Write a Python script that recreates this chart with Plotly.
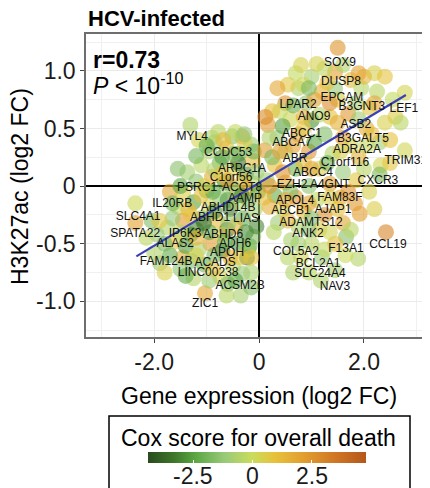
import plotly.graph_objects as go

# ---------------- data ----------------
# left cluster (genes with negative expression change)
left_expr = [-1.31, -0.78, -0.32, -0.51, -0.15, -0.62, -0.95, -0.38, -0.12, -0.75,
             -1.10, -0.50, -1.37, -0.25, -0.90, -1.20, -0.65, -0.10, -1.70, -1.45,
             -1.00, -0.42, -0.75, -1.25, -0.20, -1.55, -0.95, -0.55, -1.45, -1.10,
             -0.80, -0.30, -0.08, -1.75, -1.95, -0.61, -1.30, -0.11, -1.60, -0.93,
             -0.40, -1.15, -0.70, -0.23, -1.45, -1.89, -1.50, -1.05, -0.50, -0.32,
             -0.74, -1.25, -1.03, -2.36, -2.36, -2.00, -0.85, -0.30, -0.60, -1.30,
             -0.45, -0.95, -0.20, -1.70, -0.60, -1.20, -0.10, -1.55, -0.45, -2.05,
             -0.90, -0.70, -0.28, -1.20, -0.05, -0.40, -0.85, -1.50, -1.10, -0.50,
             -0.22, -0.85, -1.35, -0.40, -1.65, -0.70, -1.05, -0.25, -1.50, -0.85,
             -0.55, -1.30, -1.80, -0.15, -0.95, -1.40, -0.65, -0.35, -1.15, -0.60,
             -0.05, -1.90, -1.20, -0.48, -0.18,
             -1.00, -0.72, -0.33, -0.58, -0.88, -1.20, -0.45, -0.15, -1.65, -1.80,
             -0.02, -0.28, -0.68, -1.40, -0.88, -0.35, -2.15, -1.05, -0.15, -0.62]
left_h3k = [0.53, 0.47, 0.43, 0.43, 0.36, 0.33, 0.30, 0.28, 0.22, 0.20,
            0.18, 0.15, 0.12, 0.10, 0.08, 0.04, 0.03, 0.02, -0.05, -0.06,
            -0.04, -0.05, -0.10, -0.14, -0.12, -0.18, -0.18, -0.20, -0.30, -0.28,
            -0.30, -0.28, -0.20, -0.36, -0.42, -0.38, -0.42, -0.44, -0.48, -0.50,
            -0.50, -0.55, -0.56, -0.62, -0.62, -0.67, -0.72, -0.68, -0.70, -0.76,
            -0.79, -0.80, -0.93, -0.15, -0.32, -0.58, 0.38, 0.05, -0.12, -0.25,
            -0.35, -0.40, -0.55, -0.60, -0.85, -0.38, 0.30, 0.15, 0.47, -0.30,
            0.42, 0.25, 0.38, 0.26, 0.12, 0.20, 0.14, 0.00, -0.08, -0.02,
            -0.02, -0.22, -0.20, -0.15, -0.28, -0.42, -0.32, -0.40, -0.40, -0.60,
            -0.62, -0.65, -0.50, -0.75, -0.82, -0.52, -0.48, -0.62, 0.40, 0.05,
            -0.35, -0.30, -0.45, 0.28, -0.52,
            0.35, 0.10, -0.08, -0.32, -0.05, -0.60, -0.82, -0.62, -0.15, -0.75,
            -0.05, 0.45, 0.40, -0.78, -0.72, -0.95, -0.45, 0.00, -0.88, -0.95]
left_cox = [-0.6, -0.4, 2.2, -1.5, -1.0, 0.8, -0.8, -2.2, 1.2, -1.8,
            -0.3, 0.4, -0.9, -2.8, 1.6, -1.4, -3.0, -0.4, 1.8, 0.6,
            -2.0, 1.0, -1.2, -2.5, -1.8, -0.2, 0.3, -3.3, 2.4, -1.6,
            1.2, -2.2, -0.8, -0.5, -1.1, -3.8, -2.8, -1.5, 0.9, 2.2,
            -2.6, -0.7, -3.5, -3.2, 1.6, -1.0, -1.3, -2.0, -0.2, -1.2,
            0.3, -0.5, 1.9, 0.1, 2.0, -0.6, -1.1, 0.9, -2.6, 0.8,
            1.4, -2.4, -0.4, -2.2, -1.6, -3.0, -2.0, -1.5, -0.2, -1.6,
            -0.5, -2.6, 0.5, -1.9, -1.2, -3.4, -0.6, -2.4, 1.0, -1.4,
            1.6, -2.9, 1.2, -0.6, -1.2, 0.6, -3.6, -2.9, -0.4, -1.8,
            1.5, -1.6, -1.8, -0.8, -1.0, -2.6, -2.2, 0.8, 0.3, 2.0,
            -3.0, 0.8, 1.4, -1.6, -2.0,
            -2.2, 0.9, -3.1, -1.0, -2.3, 0.4, -2.4, 1.0, -2.0, 0.5,
            -2.4, -1.3, 1.2, -2.2, 0.9, -0.8, -0.3, 0.5, -1.6, -0.4]

# right cluster (genes with positive expression change)
right_expr = [1.50, 1.45, 2.20, 2.40, 1.00, 1.25, 1.75, 2.78, 0.75, 1.20,
              1.95, 2.55, 0.50, 0.90, 1.70, 2.10, 1.00, 0.17, 0.60, 1.35,
              2.40, 2.05, 0.35, 0.75, 1.25, 1.60, 2.30, 0.11, 0.50, 0.95,
              1.40, 1.90, 2.78, 0.30, 0.70, 1.15, 1.60, 2.32, 2.30, 0.15,
              0.50, 0.95, 1.35, 1.85, 0.30, 0.70, 1.10, 1.55, 1.83, 0.45,
              0.85, 1.25, 1.92, 0.36, 0.75, 1.15, 1.60, 2.42, 1.66, 0.61,
              1.00, 1.45, 1.89, 0.80, 1.20, 1.45, 1.18, 0.95, 1.65, 0.20,
              0.85, 1.50, 1.85, 0.40, 0.20, 2.10, 2.05, 0.55,
              0.35, 0.70, 1.10, 1.60, 2.00, 0.25, 0.65, 1.05, 1.45, 2.25,
              0.45, 0.85, 1.15, 1.50, 1.90, 2.60, 0.25, 0.65, 1.05, 1.75,
              2.50, 0.45, 0.85, 1.30, 2.00, 0.10, 0.60, 0.95, 1.35, 1.70,
              0.55, 0.95, 1.35, 1.75, 0.75, 1.25, 0.55, 2.20, 1.30, 0.85,
              0.12, 0.40, 0.20, 0.50, 0.28, 1.00, 1.55, 2.15, 2.50, 0.95,
              1.35, 1.90, 0.65, 1.00, 1.50, 2.20, 0.80, 2.70]
right_h3k = [1.20, 0.99, 0.98, 0.95, 0.95, 1.02, 0.92, 0.81, 0.85, 0.82,
             0.85, 0.75, 0.72, 0.72, 0.63, 0.68, 0.57, 0.53, 0.58, 0.60,
             0.55, 0.50, 0.42, 0.45, 0.45, 0.42, 0.38, 0.31, 0.30, 0.30,
             0.28, 0.25, 0.31, 0.18, 0.15, 0.15, 0.12, 0.18, 0.10, 0.05,
             0.03, 0.00, 0.02, 0.05, -0.08, -0.10, -0.12, -0.10, -0.15, -0.20,
             -0.22, -0.25, -0.24, -0.32, -0.35, -0.38, -0.32, -0.40, -0.44, -0.47,
             -0.50, -0.50, -0.63, -0.62, -0.62, -0.73, -0.82, -0.75, -0.60, 0.42,
             0.60, 0.75, 0.72, 0.65, -0.18, -0.05, 0.35, 0.88,
             0.85, 0.98, 1.06, 1.05, 0.95, 0.65, 0.70, 0.75, 0.85, 0.82,
             0.52, 0.50, 0.62, 0.55, 0.58, 0.60, 0.25, 0.35, 0.38, 0.35,
             0.40, 0.12, 0.20, 0.20, 0.15, -0.10, -0.05, -0.15, -0.10, -0.05,
             -0.30, -0.38, -0.40, -0.38, -0.50, -0.55, -0.62, 0.72, 0.90, 0.88,
             0.60, 0.30, 0.00, -0.12, -0.40, 0.15, 0.30, 0.45, 0.20, 0.85,
             0.72, 0.98, -0.75, -0.28, -0.20, -0.20, 1.05, 0.55]
right_cox = [2.5, 2.0, 0.4, 0.9, -0.9, -0.3, 1.2, 0.3, -0.6, 1.5,
             -0.4, -0.2, 2.6, -1.3, 2.4, 0.8, -2.8, 2.4, 0.2, 1.0,
             0.5, 1.6, -1.2, 1.8, -1.6, 2.2, -0.8, 2.2, -0.4, 2.5,
             -0.6, 1.4, 0.2, 1.0, -2.0, 0.6, -1.2, 0.3, -1.8, -0.8,
             1.8, -1.4, 2.0, 0.8, -2.2, 2.4, -0.2, 1.6, 2.3, 0.4,
             1.2, 2.6, 2.2, -1.0, -0.6, 0.6, 1.8, 3.0, -1.5, -0.7,
             -0.4, 1.2, -0.5, 0.2, -1.0, -0.8, -0.6, -0.3, 0.0, -0.6,
             1.4, 0.6, -0.8, -0.2, 1.6, 0.4, -0.1, 0.8,
             1.9, -0.2, 0.4, -0.6, 1.4, 1.0, -2.2, 2.0, -1.2, -0.4,
             -2.5, 0.8, -0.6, 1.6, -1.0, 0.6, -1.8, 2.1, -2.4, 0.3,
             1.0, 2.5, 1.0, -2.0, -0.4, 1.2, -1.6, 2.0, 0.6, 2.6,
             1.4, -1.2, 0.2, -0.4, -0.9, -0.2, -0.4, 1.8, 0.9, 0.2,
             2.8, 2.2, 2.5, 2.0, -0.4, 1.8, 0.5, 1.2, 0.8, -1.8,
             2.8, 2.0, -0.6, -1.6, 1.0, 0.6, 0.4, -0.4]

# labelled genes and their label positions (log2 FC units)
gene_names = ["SOX9", "DUSP8", "EPCAM", "LPAR2", "B3GNT3", "LEF1", "ANO9", "ASB2",
              "ABCC1", "ABCA7", "B3GALT5", "ADRA2A", "TRIM31", "ABR", "C1orf116",
              "CCDC53", "ARPC1A", "C1orf56", "MYL4", "PSRC1", "ACOT8", "AAMP",
              "IL20RB", "ABHD14B", "SLC4A1", "ABHD1", "LIAS", "SPATA22", "IP6K3",
              "ABHD6", "ALAS2", "ADH6", "APOH", "FAM124B", "ACADS", "LINC00238",
              "ACSM2B", "ZIC1", "ABCC4", "EZH2", "A4GNT", "CXCR3", "APOL4",
              "FAM83F", "ABCB1", "AJAP1", "ADAMTS12", "ANK2", "CCL19", "F13A1",
              "COL5A2", "BCL2A1", "SLC24A4", "NAV3"]
label_expr = [1.543, 1.562, 1.581, 0.743, 1.962, 2.762, 1.048, 1.848,
              0.819, 0.629, 1.981, 1.867, 2.800, 0.686, 1.638,
              -0.590, -0.324, -0.533, -1.276, -1.181, -0.324, -0.267,
              -1.657, -0.590, -2.305, -0.933, -0.248, -2.362, -1.410,
              -0.686, -1.600, -0.457, -0.610, -1.771, -0.838, -0.971,
              -0.362, -1.029, 1.029, 0.629, 1.352, 2.267, 0.686,
              1.543, 0.610, 1.410, 0.990, 0.933, 2.457, 1.657,
              0.705, 1.124, 1.162, 1.448]
label_h3k = [1.070, 0.904, 0.765, 0.704, 0.687, 0.670, 0.600, 0.530,
             0.452, 0.374, 0.409, 0.313, 0.217, 0.235, 0.200,
             0.287, 0.148, 0.070, 0.426, -0.017, -0.017, -0.113,
             -0.157, -0.191, -0.270, -0.278, -0.287, -0.417, -0.417,
             -0.426, -0.504, -0.504, -0.583, -0.661, -0.670, -0.757,
             -0.870, -1.026, 0.113, 0.009, 0.009, 0.043, -0.130,
             -0.104, -0.217, -0.209, -0.322, -0.417, -0.513, -0.548,
             -0.574, -0.678, -0.765, -0.878]

# linear fit endpoints
fit_expr = [-2.34, 2.80]
fit_h3k = [-0.61, 0.79]

x_ticks = [-2.0, 0.0, 2.0]
x_tick_text = ["-2.0", "0", "2.0"]
y_ticks = [-1.0, -0.5, 0.0, 0.5, 1.0]
y_tick_text = ["-1.0", "-0.5", "0", "0.5", "1.0"]
cox_ticks = [-2.5, 0.0, 2.5]
cox_tick_text = ["-2.5", "0", "2.5"]
cox_min, cox_max = -4.4, 4.8

# ---------------- figure ----------------
# the page body has an 8 px margin, so the figure starts at page (8, 8)
OFF = 8
FONT = "Liberation Sans, Arial, Helvetica, sans-serif"
W, H = 430, 488
# plot area in page pixels: x 86..430, y 34..337
ML, MT = 86 - OFF, 34 - OFF
MR = W - (430 - OFF)
MB = H - (337 - OFF)
PW, PH = W - ML - MR, H - MT - MB

# colour bar in page pixels
CB_X0, CB_X1, CB_Y0 = 148, 366, 452


def px(xp):
    return (xp - OFF - ML) / PW


def py(yp):
    return (H - MB - (yp - OFF)) / PH


colorscale = [
    [0.00, "#2a4a1e"],
    [0.12, "#3d772a"],
    [0.22, "#5ca843"],
    [0.35, "#98c979"],
    [0.478, "#cadc5c"],
    [0.58, "#e6c23c"],
    [0.72, "#e29c2e"],
    [0.86, "#cf7624"],
    [1.00, "#b5561b"],
]

all_expr = left_expr + right_expr
all_h3k = left_h3k + right_h3k
all_cox = left_cox + right_cox

fig = go.Figure()
fig.add_trace(go.Scatter(
    x=all_expr, y=all_h3k, mode="markers",
    marker=dict(
        size=16, color=all_cox, colorscale=colorscale, cmin=cox_min, cmax=cox_max,
        opacity=0.6, line=dict(width=0),
        colorbar=dict(
            orientation="h", x=px((CB_X0 + CB_X1) / 2), xanchor="center",
            y=py(CB_Y0), yanchor="top", len=CB_X1 - CB_X0, lenmode="pixels",
            thickness=11, thicknessmode="pixels", outlinewidth=0,
            tickvals=cox_ticks, ticks="inside", ticklen=3, tickcolor="white",
            showticklabels=False, xpad=0, ypad=0,
        ),
    ),
    hoverinfo="skip", showlegend=False,
))
fig.add_trace(go.Scatter(
    x=fit_expr, y=fit_h3k, mode="lines",
    line=dict(color="#3a40b5", width=2.2), hoverinfo="skip", showlegend=False,
))
fig.add_trace(go.Scatter(
    x=label_expr, y=label_h3k, mode="text", text=gene_names,
    textposition="middle center",
    textfont=dict(family=FONT, size=12, color="#111111"),
    hoverinfo="skip", showlegend=False,
))

axis_common = dict(
    ticks="outside", ticklen=4, tickcolor="#444444", tickwidth=1,
    tickfont=dict(family=FONT, size=23, color="#1a1a1a"),
    showgrid=True, gridcolor="#ebebeb", gridwidth=1,
    zeroline=True, zerolinecolor="#000000", zerolinewidth=1.5,
    showline=True, linecolor="#6e6e6e", linewidth=1.5,
)

annotations = [
    dict(text="<b>HCV-infected</b>", xref="paper", yref="paper",
         x=px(86), y=py(18), xanchor="left", yanchor="middle",
         showarrow=False, font=dict(family=FONT, size=22, color="#000")),
    dict(text="<b>r=0.73</b>", xref="paper", yref="paper",
         x=px(91), y=py(60), xanchor="left", yanchor="middle",
         showarrow=False, font=dict(family=FONT, size=23, color="#000")),
    dict(text="<i>P</i> &lt; 10<sup>-10</sup>", xref="paper", yref="paper",
         x=px(91), y=py(84), xanchor="left", yanchor="middle",
         showarrow=False, font=dict(family=FONT, size=23, color="#000")),
    dict(text="Gene expression (log2 FC)", xref="paper", yref="paper",
         x=px(259), y=py(396), xanchor="center", yanchor="middle",
         showarrow=False, font=dict(family=FONT, size=23, color="#000")),
    dict(text="H3K27ac (log2 FC)", xref="paper", yref="paper",
         x=px(20), y=py(187), xanchor="center", yanchor="middle",
         textangle=-90, showarrow=False,
         font=dict(family=FONT, size=23, color="#000")),
    dict(text="Cox score for overall death", xref="paper", yref="paper",
         x=px(258), y=py(438), xanchor="center", yanchor="middle",
         showarrow=False, font=dict(family=FONT, size=23, color="#000")),
]
# colour-bar tick labels, placed on the colour bar's own scale
for v, t in zip(cox_ticks, cox_tick_text):
    xpage = CB_X0 + (v - cox_min) / (cox_max - cox_min) * (CB_X1 - CB_X0)
    annotations.append(dict(
        text=t, xref="paper", yref="paper", x=px(xpage), y=py(476),
        xanchor="center", yanchor="middle", showarrow=False,
        font=dict(family=FONT, size=23, color="#1a1a1a")))

fig.update_layout(
    width=W, height=H,
    margin=dict(l=ML, r=MR, t=MT, b=MB, autoexpand=False),
    paper_bgcolor="white", plot_bgcolor="white",
    font=dict(family=FONT, color="#1a1a1a"),
    xaxis=dict(range=[-3.3, 3.26], tickvals=x_ticks, ticktext=x_tick_text,
               minor=dict(tickvals=[-3, -1, 1, 3], showgrid=True,
                          gridcolor="#f0f0f0", ticks=""),
               mirror=True, **axis_common),
    yaxis=dict(range=[-1.31, 1.32], tickvals=y_ticks, ticktext=y_tick_text,
               minor=dict(tickvals=[-1.25, -0.75, -0.25, 0.25, 0.75, 1.25],
                          showgrid=True, gridcolor="#f0f0f0", ticks=""),
               mirror=False, **axis_common),
    annotations=annotations,
    shapes=[
        dict(type="rect", xref="paper", yref="paper",
             x0=px(109), x1=px(410), y0=py(500), y1=py(416),
             line=dict(color="#000000", width=1.5), fillcolor="rgba(0,0,0,0)"),
    ],
)

fig.write_html("out.html")
